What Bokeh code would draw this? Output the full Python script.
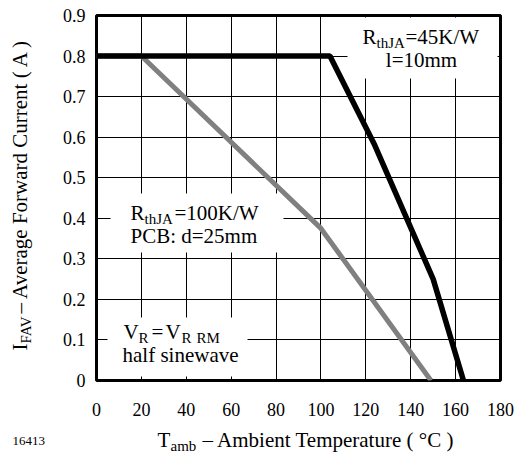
import math
from bokeh.plotting import figure
from bokeh.models import Range1d, FixedTicker, Label
from bokeh.layouts import row, column
from bokeh.embed import file_html
from bokeh.resources import INLINE

# ---- data ----
temp_45 = [0, 104, 124, 150, 163.5]
amps_45 = [0.8, 0.8, 0.58, 0.25, 0.0]
temp_100 = [0, 20, 100, 149]
amps_100 = [0.8, 0.8, 0.375, 0.0]

x_ticks = [0, 20, 40, 60, 80, 100, 120, 140, 160, 180]
x_tick_labels = ["0", "20", "40", "60", "80", "100", "120", "140", "160", "180"]
y_ticks = [0, 0.1, 0.2, 0.3, 0.4, 0.5, 0.6, 0.7, 0.8, 0.9]
y_tick_labels = ["0", "0.1", "0.2", "0.3", "0.4", "0.5", "0.6", "0.7", "0.8", "0.9"]

FONT = "Liberation Serif"
BASE_K = 0.33      # correction of the label anchor (fraction of font size)

# page layout (pixels)
W, H = 515, 455
LW = 45            # left strip width (y title)
BH = 30            # bottom strip height (x title)
MW, MH = W - LW, H - BH
# frame edges in page pixels
PFL, PFR, PFT, PFB = 96, 500, 15, 380
FL, FR, FT, FB = PFL - LW, PFR - LW, PFT, PFB   # in main-figure pixels

p = figure(width=MW, height=MH, output_backend="svg", toolbar_location=None,
           title=None,
           x_range=Range1d(0, 180), y_range=Range1d(0, 0.9),
           min_border_left=FL, min_border_right=MW - FR,
           min_border_top=FT, min_border_bottom=MH - FB)
p.background_fill_color = "white"
p.border_fill_color = "white"
p.outline_line_color = "black"
p.outline_line_width = 3

for axes in (p.xaxis, p.yaxis):
    axes.axis_line_color = None
    axes.major_tick_line_color = None
    axes.minor_tick_line_color = None
    axes.major_tick_out = 0
    axes.major_tick_in = 0
    axes.major_label_text_font = FONT
    axes.major_label_text_font_size = "18px"
    axes.major_label_text_font_style = "normal"
    axes.major_label_text_color = "black"

p.xaxis.ticker = FixedTicker(ticks=x_ticks)
p.yaxis.ticker = FixedTicker(ticks=y_ticks)
p.xaxis.major_label_overrides = {t: s for t, s in zip(x_ticks, x_tick_labels)}
p.yaxis.major_label_overrides = {t: s for t, s in zip(y_ticks, y_tick_labels)}
p.xaxis.major_label_standoff = 22
p.yaxis.major_label_standoff = 11

p.xgrid.ticker = FixedTicker(ticks=x_ticks)
p.ygrid.ticker = FixedTicker(ticks=y_ticks)
for g in (p.xgrid[0], p.ygrid[0]):
    g.grid_line_color = "black"
    g.grid_line_width = 1
    g.grid_line_alpha = 1


def dx(px):
    return (px - PFL) / (PFR - PFL) * 180


def dy(py):
    return (PFB - py) / (PFB - PFT) * 0.9


# white boxes behind the annotation texts (page pixel boxes)
boxes = [(347, 497, 17, 78), (110, 283, 193, 252), (107, 247, 317, 376)]
p.quad(left=[dx(b[0]) for b in boxes], right=[dx(b[1]) for b in boxes],
       top=[dy(b[2]) for b in boxes], bottom=[dy(b[3]) for b in boxes],
       fill_color="white", line_color=None)

p.line(temp_100, amps_100, line_color="#808080", line_width=5)
p.line(temp_45, amps_45, line_color="black", line_width=5.5)


def txt(s, px, py, size=21, align="left"):
    """Text inside the main frame, px/py = baseline position in page pixels."""
    py = py - BASE_K * size
    p.add_layout(Label(x=px - PFL, y=PFB - py, x_units="screen", y_units="screen",
                       text=s, text_font=FONT, text_font_size=f"{size}px",
                       text_color="black", text_baseline="alphabetic",
                       text_align=align))


SUB = 15
# R_thJA=45K/W, l=10mm
txt("R", 362, 43)
txt("thJA", 376, 47, SUB)
txt("=45K/W", 405, 43)
txt("l=10mm", 421, 66, align="center")

# R_thJA=100K/W, PCB: d=25mm
txt("R", 130, 219)
txt("thJA", 144, 223, SUB)
txt("=100K/W", 174, 219)
txt("PCB: d=25mm", 130, 242)

# V_R = V_RRM, half sinewave
txt("V", 123, 338)
txt("R", 138, 342, SUB)
txt("=", 151, 338)
txt("V", 165, 338)
txt("R", 181, 342, SUB)
txt("RM", 196, 342, SUB)
txt("half sinewave", 122, 361)


def strip(w, h, xr, yr, **borders):
    f = figure(width=w, height=h, output_backend="svg", toolbar_location=None,
               title=None, x_range=Range1d(*xr), y_range=Range1d(*yr),
               x_axis_type=None, y_axis_type=None, min_border=0, **borders)
    f.outline_line_color = None
    f.grid.visible = False
    f.background_fill_color = "white"
    f.border_fill_color = "white"
    return f


# left strip: data coords = page pixels (y downward)
left = strip(LW, H, (0, LW), (H, 0))
# bottom strip: same side borders as main plot, data x = page pixels of frame
bottom = strip(MW, BH, (PFL, PFR), (H, MH),
               min_border_left=FL, min_border_right=MW - FR,
               min_border_top=0, min_border_bottom=0)


def stxt(f, s, px, py, size=21, rotated=False):
    if rotated:
        px = px - BASE_K * size
    else:
        py = py - BASE_K * size
    f.add_layout(Label(x=px, y=py, text=s, text_font=FONT,
                       text_font_size=f"{size}px", text_color="black",
                       text_baseline="alphabetic", text_align="left",
                       angle=math.pi / 2 if rotated else 0))


# y title (rotated)
stxt(left, "I", 26, 350, rotated=True)
stxt(left, "FAV", 30, 343, SUB, rotated=True)
stxt(left, "\u2013 Average Forward Current ( A )", 26, 313, rotated=True)
stxt(left, "16413", 12, 445, 13)

# x title
stxt(bottom, "T", 157, 446)
stxt(bottom, "amb", 170, 450, SUB)
stxt(bottom, "\u2013 Ambient Temperature ( \u00b0C )", 202, 446)

layout = row(left, column(p, bottom, spacing=0), spacing=0)
open("out.html", "w").write(file_html(layout, INLINE))
